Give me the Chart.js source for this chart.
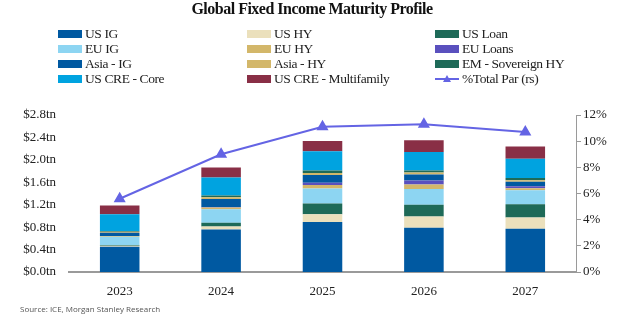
<!DOCTYPE html>
<html>
<head>
<meta charset="utf-8">
<script src="https://cdn.jsdelivr.net/npm/chart.js@4/dist/chart.umd.min.js"></script>
<style>
  html, body { margin: 0; padding: 0; background: #fff; }
  #wrap { position: relative; width: 624px; height: 324px; overflow: hidden; }
  #title {
    position: absolute; left: 0; top: 0; width: 624px; text-align: center;
    font: bold 16px "Liberation Serif", serif; letter-spacing: -0.5px; color: #111;
  }
  #legend { position: absolute; left: 0; top: 26px; width: 624px; height: 60px; }
  .item {
    position: absolute; height: 15px; display: flex; align-items: center;
    font: 13.5px "Liberation Serif", serif; color: #222; letter-spacing: -0.4px; white-space: nowrap;
  }
  .swatch { width: 24px; height: 8px; margin-right: 3px; }
  #source {
    position: absolute; left: 20px; top: 303px;
    font: 8px "Open Sans", sans-serif; color: #555;
  }
  canvas { position: absolute; left: 0; top: 0; }
</style>
</head>
<body>
<div id="wrap">
  <canvas id="chart" width="624" height="324"></canvas>
  <div id="title">Global Fixed Income Maturity Profile</div>
  <div id="legend"></div>
  <div id="source">Source: ICE, Morgan Stanley Research</div>
</div>
<script>
const years = ['2023', '2024', '2025', '2026', '2027'];

// $tn
const usIG        = [0.45, 0.76, 0.89, 0.79, 0.77];
const usHY        = [0.02, 0.05, 0.14, 0.20, 0.20];
const usLoan      = [0.01, 0.07, 0.19, 0.21, 0.24];
const euIG        = [0.15, 0.24, 0.27, 0.28, 0.25];
const euHY        = [0.01, 0.03, 0.06, 0.08, 0.035];
const euLoans     = [0.00, 0.01, 0.04, 0.07, 0.035];
const asiaIG      = [0.06, 0.14, 0.14, 0.11, 0.08];
const asiaHY      = [0.02, 0.035, 0.035, 0.035, 0.025];
const emSovHY     = [0.01, 0.03, 0.045, 0.035, 0.04];
const usCreCore   = [0.30, 0.32, 0.345, 0.33, 0.345];
const usCreMulti  = [0.155, 0.18, 0.18, 0.21, 0.22];
// % of total par (right axis)
const pctTotalPar = [5.6, 9.0, 11.1, 11.3, 10.7];

const leftTicks = [0, 0.4, 0.8, 1.2, 1.6, 2.0, 2.4, 2.8];
const rightTicks = [0, 2, 4, 6, 8, 10, 12];

const barSeries = [
  { label: 'US IG', data: usIG, color: '#0059a1' },
  { label: 'US HY', data: usHY, color: '#ebe0bc' },
  { label: 'US Loan', data: usLoan, color: '#1e6a58' },
  { label: 'EU IG', data: euIG, color: '#8dd5f2' },
  { label: 'EU HY', data: euHY, color: '#d3b76a' },
  { label: 'EU Loans', data: euLoans, color: '#5a50be' },
  { label: 'Asia - IG', data: asiaIG, color: '#0059a1' },
  { label: 'Asia - HY', data: asiaHY, color: '#d3b76a' },
  { label: 'EM - Sovereign HY', data: emSovHY, color: '#1e6a58' },
  { label: 'US CRE - Core', data: usCreCore, color: '#00a3e0' },
  { label: 'US CRE - Multifamily', data: usCreMulti, color: '#892f46' },
];
const lineColor = '#6464e4';

const serif = '"Liberation Serif", serif';

const datasets = barSeries.map(s => ({
  type: 'bar',
  label: s.label,
  data: s.data,
  backgroundColor: s.color,
  borderWidth: 0,
  barPercentage: 0.39,
  categoryPercentage: 1,
  yAxisID: 'y',
}));
datasets.push({
  type: 'line',
  label: '%Total Par (rs)',
  data: pctTotalPar,
  borderColor: lineColor,
  backgroundColor: lineColor,
  borderWidth: 2,
  tension: 0,
  pointStyle: 'triangle',
  pointRadius: 5,
  yAxisID: 'y1',
  order: -1,
});

new Chart(document.getElementById('chart'), {
  data: { labels: years, datasets },
  options: {
    responsive: false,
    animation: false,
    layout: { padding: { top: 115, left: 0, right: 0, bottom: 0 } },
    plugins: { legend: { display: false }, tooltip: { enabled: false }, title: { display: false } },
    scales: {
      x: {
        stacked: true,
        grid: { display: false, drawTicks: false },
        border: { display: true, color: '#9a9a9a', width: 2 },
        ticks: { padding: 12, color: '#222', font: { family: serif, size: 13 } },
        afterFit: s => { s.height = 52; },
      },
      y: {
        stacked: true,
        position: 'left',
        min: 0, max: 2.8,
        afterBuildTicks: s => { s.ticks = leftTicks.map(v => ({ value: v })); },
        grid: { display: false, drawTicks: false },
        border: { display: false },
        ticks: {
          padding: 13, color: '#222', font: { family: serif, size: 13 },
          callback: v => '$' + v.toFixed(1) + 'tn',
        },
        afterFit: s => { s.width = 69; },
      },
      y1: {
        position: 'right',
        min: 0, max: 12,
        afterBuildTicks: s => { s.ticks = rightTicks.map(v => ({ value: v })); },
        grid: { drawOnChartArea: false, drawTicks: true, tickLength: 5, color: '#9a9a9a' },
        border: { display: true, color: '#9a9a9a', width: 1 },
        ticks: {
          padding: 2, color: '#222', font: { family: serif, size: 13 },
          callback: v => v + '%',
        },
        afterFit: s => { s.width = 48; },
      },
    },
  },
});

// legend in three columns, row by row, same order as the datasets
const legend = document.getElementById('legend');
const colX = [58, 247, 435];
const rowY = [0, 15, 30, 45];
const items = barSeries.map(s => ({ label: s.label, color: s.color, line: false }));
items.push({ label: '%Total Par (rs)', color: lineColor, line: true });
items.forEach((it, i) => {
  const el = document.createElement('div');
  el.className = 'item';
  el.style.left = colX[i % 3] + 'px';
  el.style.top = rowY[Math.floor(i / 3)] + 'px';
  let marker;
  if (it.line) {
    marker = `<svg width="24" height="10" style="margin-right:3px"><line x1="0" y1="5" x2="24" y2="5" stroke="${it.color}" stroke-width="2"/><polygon points="12,1 16,8 8,8" fill="${it.color}"/></svg>`;
  } else {
    marker = `<span class="swatch" style="background:${it.color}"></span>`;
  }
  el.innerHTML = marker + `<span>${it.label}</span>`;
  legend.appendChild(el);
});
</script>
</body>
</html>
